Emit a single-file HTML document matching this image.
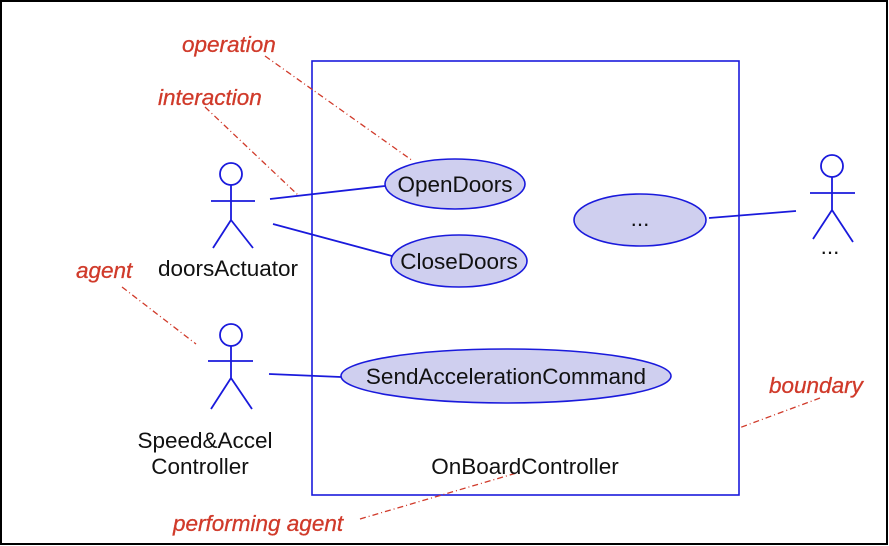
<!DOCTYPE html>
<html><head><style>
html,body{margin:0;padding:0;background:#fff;}
svg{display:block;}
text{font-family:"Liberation Sans",sans-serif;}
</style></head><body>
<svg width="889" height="546" viewBox="0 0 889 546" xmlns="http://www.w3.org/2000/svg">
<rect x="1" y="1" width="886" height="543" fill="#fff" stroke="#000" stroke-width="2"/>
<rect x="312" y="61" width="427" height="434" fill="none" stroke="#1a1adc" stroke-width="1.6"/>
<g stroke="#1a1adc" stroke-width="1.6" fill="#cfcfef">
<ellipse cx="455" cy="184" rx="70" ry="25"/>
<ellipse cx="459" cy="261" rx="68" ry="26"/>
<ellipse cx="640" cy="220" rx="66" ry="26"/>
<ellipse cx="506" cy="376" rx="165" ry="27"/>
</g>
<g stroke="#1a1adc" stroke-width="1.8" fill="none">
<circle cx="231" cy="174" r="11"/>
<path d="M231 185V220M211 201H255M231 220L213 248M231 220L253 248"/>
<circle cx="231" cy="335" r="11"/>
<path d="M231 346V378M208 361H253M231 378L211 409M231 378L252 409"/>
<circle cx="832" cy="166" r="11"/>
<path d="M832 177V210M810 193H855M832 210L813 239M832 210L853 242"/>
<path d="M270 199L385 186M273 224L392 256M269 374L341 377M709 218L796 211"/>
</g>
<g stroke="#d03a2a" stroke-width="1.3" fill="none" stroke-dasharray="6 3 1 3">
<path d="M265 56L413 161M205 107L298 195M122 287L196 344M820 398L739 428M360 519L520 472"/>
</g>
<g font-size="22.5" fill="#111">
<text x="455" y="192" text-anchor="middle">OpenDoors</text>
<text x="459" y="269" text-anchor="middle">CloseDoors</text>
<text x="640" y="226" text-anchor="middle">...</text>
<text x="506" y="384" text-anchor="middle">SendAccelerationCommand</text>
<text x="228" y="276" text-anchor="middle">doorsActuator</text>
<text x="205" y="448" text-anchor="middle">Speed&amp;Accel</text>
<text x="200" y="474" text-anchor="middle">Controller</text>
<text x="830" y="254" text-anchor="middle">...</text>
<text x="525" y="474" text-anchor="middle">OnBoardController</text>
</g>
<g font-size="22.5" fill="#d03a2a" font-style="italic" stroke="#d03a2a" stroke-width="0.3">
<text x="182" y="52">operation</text>
<text x="158" y="105">interaction</text>
<text x="76" y="278">agent</text>
<text x="769" y="393">boundary</text>
<text x="173" y="531">performing agent</text>
</g>
</svg>
</body></html>
